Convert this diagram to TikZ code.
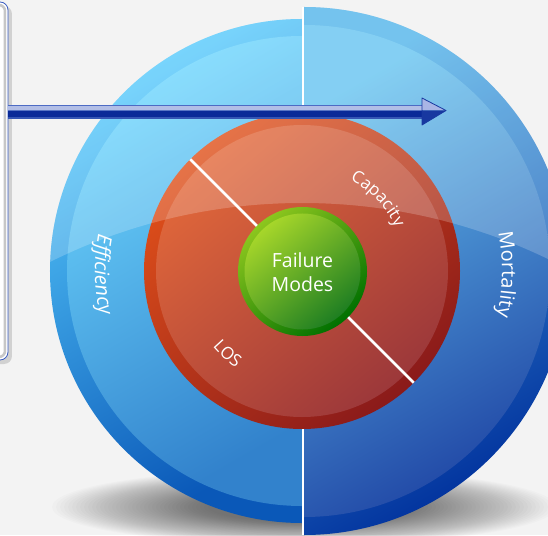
\documentclass[tikz,border=0pt]{standalone}
\usepackage{fontspec}
\setmainfont{Open Sans}
\newfontfamily\lblfont[LetterSpace=10]{Open Sans}
\newfontfamily\fmfont{Open Sans}
\usetikzlibrary{decorations.text}
\definecolor{bg}{HTML}{F3F3F3}
\definecolor{boxblue}{HTML}{3A5CC0}
\definecolor{bLa}{HTML}{5ACFFF}
\definecolor{bLb}{HTML}{0A58B8}
\definecolor{bLc}{HTML}{6ED8FF}
\definecolor{bLd}{HTML}{3282CC}
\definecolor{bRa}{HTML}{52B4EA}
\definecolor{bRb}{HTML}{00309C}
\definecolor{bRc}{HTML}{66C4F0}
\definecolor{bRd}{HTML}{2148A6}
\definecolor{rRa}{HTML}{E0501A}
\definecolor{rRb}{HTML}{8A1A1A}
\definecolor{rIa}{HTML}{E2683A}
\definecolor{rIb}{HTML}{9C383A}
\definecolor{gRa}{HTML}{8CC61E}
\definecolor{gRb}{HTML}{007000}
\definecolor{gIa}{HTML}{A6D62A}
\definecolor{gIb}{HTML}{1E7E22}
\definecolor{arA}{HTML}{4D6BC4}
\definecolor{arB}{HTML}{B2BEE6}
\definecolor{arC}{HTML}{5874C4}
\definecolor{arD}{HTML}{0A2A98}
\definecolor{arE}{HTML}{3656B4}
\definecolor{arH}{HTML}{A9B5E5}
\definecolor{arK}{HTML}{1838A0}
\tikzset{
  lbl/.style={decorate, decoration={text along path, text align=center, text color=white, text={#1}}},
}
\begin{document}
\begin{tikzpicture}[x=1pt,y=1pt]
\useasboundingbox (-302,-264) rectangle (246,271);
\fill[bg] (-302,-264) rectangle (246,271);
% shadow
\foreach \i in {0,...,39}
  \fill[black, opacity=0.016] (2,-236) ellipse [x radius={252-\i*4}, y radius={38-\i*0.6}];
% left box
\fill[black!18, rounded corners=8] (-330,265) rectangle (-290,-93);
\draw[fill=white, draw=boxblue, line width=0.8, rounded corners=8] (-330,269) rectangle (-294,-89);
\draw[black!22, line width=2.5, rounded corners=6] (-330,266) rectangle (-297,-86);
% blue halves
\shade[top color=bLa, bottom color=bLb, shading angle=30] (0,252) arc[start angle=90,end angle=270,radius=252] -- cycle;
\shade[top color=bLc, bottom color=bLd, shading angle=30] (0,235) arc[start angle=90,end angle=270,radius=235] -- cycle;
\shade[top color=bRa, bottom color=bRb, shading angle=30] (2,-264) arc[start angle=-90,end angle=90,radius=264] -- cycle;
\shade[top color=bRc, bottom color=bRd, shading angle=30] (2,-246) arc[start angle=-90,end angle=90,radius=246] -- cycle;
\draw[white, line width=2] (1,264) -- (1,-264);
% red
\shade[top color=rRa, bottom color=rRb, shading angle=40] (0,0) circle (158);
\shade[top color=rIa, bottom color=rIb, shading angle=40] (0,0) circle (146);
\draw[white, line width=2.5] (135:158) -- (-45:158);
% highlight
\begin{scope}
\clip (0,252) arc[start angle=90,end angle=270,radius=252] -- cycle
      (2,-264) arc[start angle=-90,end angle=90,radius=264] -- cycle
      (-0.5,264) rectangle (2.5,-264);
\fill[white, opacity=0.2, even odd rule] (-310,-270) rectangle (260,280) (0,-499) circle (567);
\end{scope}
% green
\shade[top color=gRa, bottom color=gRb, shading angle=40] (0.5,-0.5) circle (64.5);
\shade[top color=gIa, bottom color=gIb, shading angle=40] (0.5,-0.5) circle (58);
\node[text=white, font=\fmfont\fontsize{19.5}{24}\selectfont, align=center] (fm) at (0.5,-1) {Failure\\Modes};
% labels
\path[lbl={|\lblfont\itshape\fontsize{20}{22}\selectfont|Efficiency}] (150:207) arc[start angle=150,end angle=212,radius=207];
\path[lbl={|\lblfont\fontsize{20}{22}\selectfont|Mortality}] ([shift={(2,0)}]30:198) arc[start angle=30,end angle=-32,radius=198];
\path[lbl={|\lblfont\fontsize{17}{20}\selectfont|Capacity}] (77:103) arc[start angle=77,end angle=10,radius=103];
\path[lbl={|\lblfont\fontsize{17}{20}\selectfont|LOS}] (205:117) arc[start angle=205,end angle=251,radius=117];
% arrow
\coordinate (arS) at (-294,159.5);
\coordinate (arT) at (121,159.5);
\fill[arA] (-294,166) rectangle (121,164.5);
\fill[arB] (-294,164.5) rectangle (121,161);
\fill[arC] (-294,161) rectangle (121,159.5);
\fill[arD] (-294,159.5) rectangle (121,153.5);
\fill[arE] (-294,153.5) rectangle (121,152);
\fill[arH] (120,173) -- (144,160.5) -- (120,160.5) -- cycle;
\fill[arK] (120,160.5) -- (144,160.5) -- (120,146) -- cycle;
\draw[arK, line width=0.8, line join=round] (120,173) -- (144,160.5) -- (120,146) -- cycle;
\end{tikzpicture}
\end{document}
